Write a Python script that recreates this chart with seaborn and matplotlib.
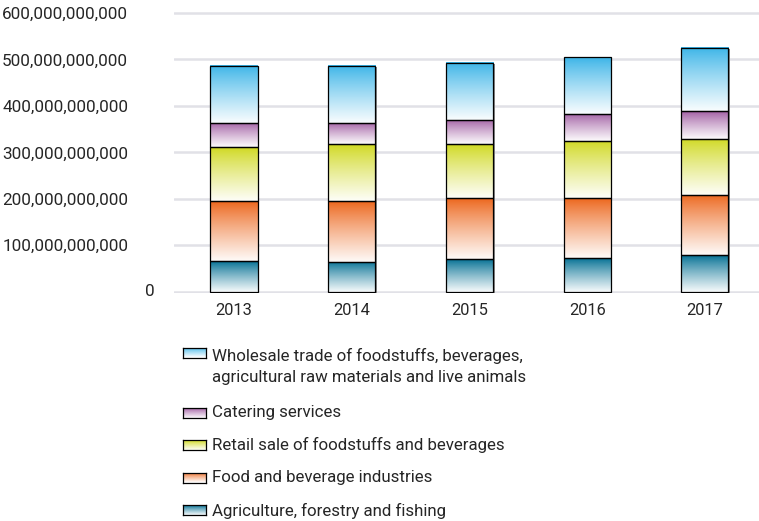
import numpy as np
import pandas as pd
import matplotlib
matplotlib.use("Agg")
import matplotlib.pyplot as plt
import matplotlib.transforms as mtransforms
from matplotlib import font_manager
from matplotlib.patches import Rectangle
from matplotlib.colors import to_rgb
import seaborn as sns

# ---- data (EUR) -------------------------------------------------------
years = ["2013", "2014", "2015", "2016", "2017"]
agriculture = [66e9, 65e9, 71e9, 72e9, 78e9]
food_industries = [129e9, 130e9, 130e9, 129e9, 130e9]
retail_sale = [116e9, 122e9, 116e9, 123e9, 121e9]
catering = [52e9, 46e9, 52e9, 59e9, 59e9]
wholesale = [123e9, 123e9, 123e9, 122e9, 136e9]

sector_labels = [
    "Agriculture, forestry and fishing",
    "Food and beverage industries",
    "Retail sale of foodstuffs and beverages",
    "Catering services",
    "Wholesale trade of foodstuffs, beverages,\nagricultural raw materials and live animals",
]
sector_values = [agriculture, food_industries, retail_sale, catering, wholesale]
top_colors = ["#006e92", "#ec6419", "#cfd81e", "#a05ca2", "#38b3e7"]

y_ticks = [0, 100e9, 200e9, 300e9, 400e9, 500e9, 600e9]

# ---- fonts --------------------------------------------------------------
sns.set_theme(style="white")
available = {f.name for f in font_manager.fontManager.ttflist}
family = [f for f in ["Liberation Sans Narrow", "DejaVu Sans Condensed",
                      "Roboto", "DejaVu Sans"] if f in available]
plt.rcParams["font.family"] = family
text_color = "#262626"
narrow = family[0] in ("Liberation Sans Narrow", "DejaVu Sans Condensed")
fs_y = 14 if narrow else 12.3
fs_x = 14 if narrow else 11.8
fs_leg = 14 if narrow else 12.2

# ---- long table ---------------------------------------------------------
rows = []
for name, vals in zip(sector_labels, sector_values):
    for yr, v in zip(years, vals):
        rows.append({"year": yr, "sector": name, "value": v})
df = pd.DataFrame(rows)

W, H = 759, 521
fig = plt.figure(figsize=(W / 100, H / 100), dpi=100)

px_per_unit = 46.45 / 100e9
y0_px, ylo, yhi = 291.7, -3e9, 603e9
ax_bottom_px = y0_px - ylo * px_per_unit
ax_top_px = y0_px - yhi * px_per_unit
ax_left_px, ax_right_px = 174, 759
ax = fig.add_axes([ax_left_px / W, 1 - ax_bottom_px / H,
                   (ax_right_px - ax_left_px) / W,
                   (ax_bottom_px - ax_top_px) / H])

# stacked bars, bottom to top
base = np.zeros(len(years))
segments = []
for name, vals in zip(sector_labels, sector_values):
    sub = df[df["sector"] == name]
    n_before = len(ax.patches)
    sns.barplot(data=sub, x="year", y="value", order=years, bottom=base.copy(),
                width=0.40, color="white", errorbar=None, ax=ax,
                edgecolor="black", linewidth=0.9)
    segments.append((name, ax.patches[n_before:]))
    base = base + np.array(vals)

shadow_tf = mtransforms.offset_copy(ax.transData, fig=fig, x=1.6, y=-0.8,
                                    units="dots")


def gradient(top_hex, n=256, floor=0.03):
    top = np.array(to_rgb(top_hex))
    white = np.ones(3)
    t = np.linspace(0, 1, n) ** 0.85
    cols = top[None, :] * (1 - t[:, None]) + white[None, :] * t[:, None]
    cols = cols * (1 - floor) + top[None, :] * floor
    return cols[:, None, :]


for (name, patches), col in zip(segments, top_colors):
    grad = gradient(col)
    for p in patches:
        x0, y0 = p.get_x(), p.get_y()
        w, h = p.get_width(), p.get_height()
        ax.add_patch(Rectangle((x0, y0), w, h, transform=shadow_tf,
                               facecolor="#8a8a8a", edgecolor="none",
                               zorder=1.5))
        ax.imshow(grad, extent=[x0, x0 + w, y0, y0 + h], origin="upper",
                  aspect="auto", interpolation="bilinear", zorder=2)
        p.set_facecolor("none")
        p.set_zorder(3)

ax.set_xlim(-0.51, 4.46)
ax.set_ylim(ylo, yhi)
ax.set_yticks(y_ticks)
ax.set_yticklabels(["" if v == 0 else f"{int(v):,}" for v in y_ticks])
ax.text(-0.033, 0, "0", transform=ax.get_yaxis_transform(), ha="right",
        va="center", fontsize=fs_y, color=text_color)
ax.grid(axis="y", color="#e1e1e7", linewidth=1.8)
ax.set_axisbelow(True)
for s in ax.spines.values():
    s.set_visible(False)
ax.tick_params(axis="y", length=0, pad=33, labelsize=fs_y, labelcolor=text_color)
ax.tick_params(axis="x", length=0, pad=7, labelsize=fs_x, labelcolor=text_color)
ax.set_xlabel("")
ax.set_ylabel("")

# ---- legend (top entry first) ------------------------------------------
legend_rows = [  # (swatch centre y px, text centre y px)
    (352.5, 366.5),
    (413.0, 412.5),
    (445.0, 444.5),
    (477.5, 477.5),
    (510.0, 510.5),
]
for (sy, ty), name, col in zip(legend_rows, sector_labels[::-1], top_colors[::-1]):
    sw_w, sw_h = 23, 10
    sax = fig.add_axes([182.5 / W, 1 - (sy + sw_h / 2) / H, sw_w / W, sw_h / H])
    sax.imshow(gradient(col), aspect="auto", interpolation="bilinear",
               extent=[0, 1, 0, 1], origin="upper")
    sax.set_xticks([])
    sax.set_yticks([])
    for s in sax.spines.values():
        s.set_visible(True)
        s.set_color("black")
        s.set_linewidth(0.9)
    fig.text(212 / W, 1 - ty / H, name, ha="left", va="center",
             fontsize=fs_leg, color=text_color, linespacing=1.55)

fig.savefig("out.png", dpi=100)
